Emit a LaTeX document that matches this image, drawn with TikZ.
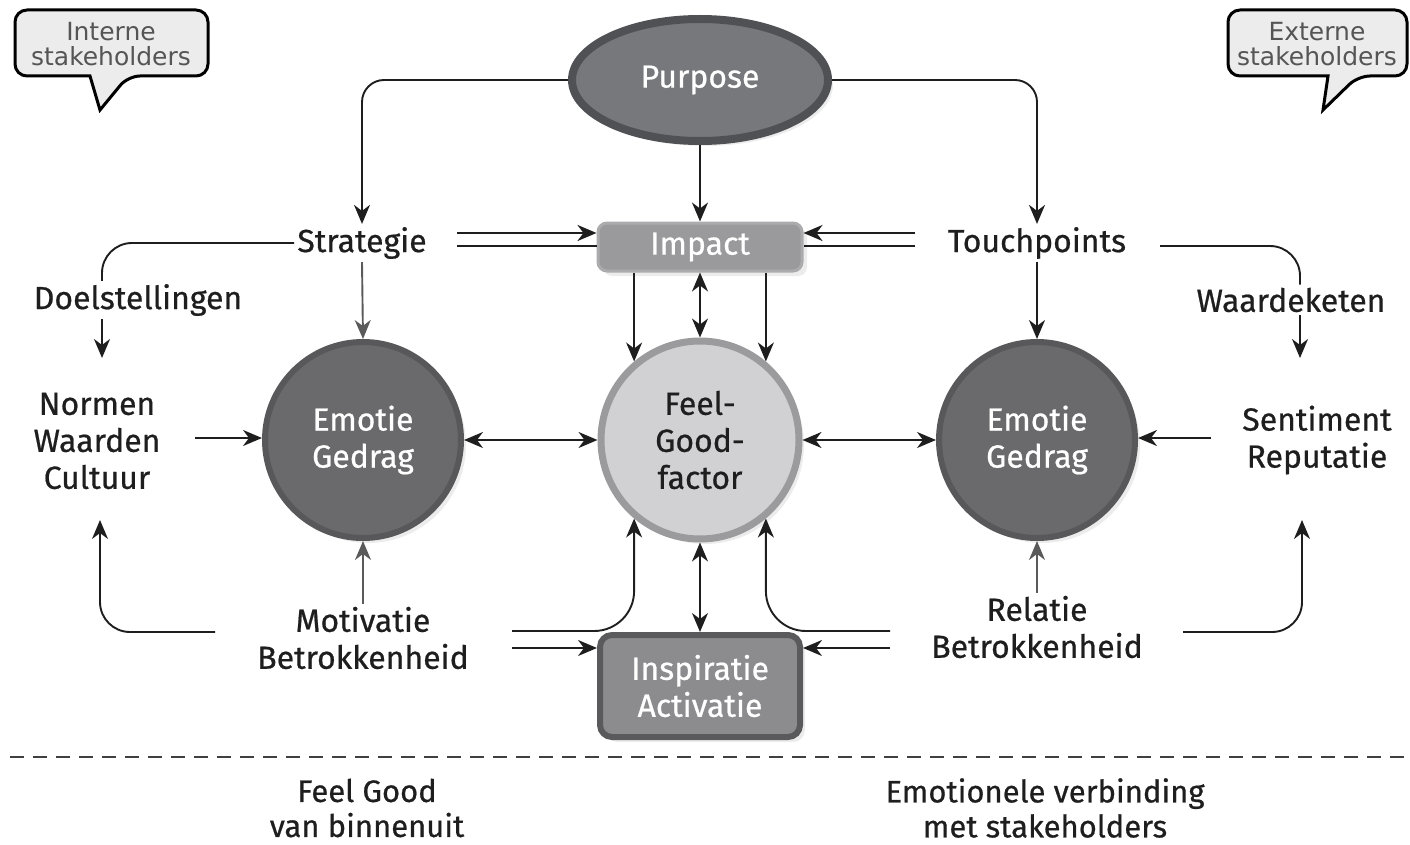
\documentclass[tikz,border=0pt]{standalone}
\usepackage{fontspec}
\setmainfont{Fira Sans}
\newfontfamily\heavyfont{Fira Sans}[FakeBold=0.6]
\newfontfamily\bubblefont{DejaVu Sans}
\usetikzlibrary{arrows.meta,shapes.geometric,shadows,calc}
\definecolor{purfill}{HTML}{77787C}
\definecolor{purborder}{HTML}{505154}
\definecolor{impfill}{HTML}{9A9A9C}
\definecolor{impborder}{HTML}{ABABAD}
\definecolor{emofill}{HTML}{6A6A6C}
\definecolor{emoborder}{HTML}{58585A}
\definecolor{fgfill}{HTML}{D1D1D3}
\definecolor{fgborder}{HTML}{9B9B9D}
\definecolor{inspfill}{HTML}{8C8C8E}
\definecolor{inspborder}{HTML}{5A5A5C}
\definecolor{arrgray}{HTML}{5A5A5A}
\definecolor{bubfill}{HTML}{ECECEC}
\definecolor{bubtext}{HTML}{555555}
\definecolor{ink}{HTML}{1E1E1E}
\begin{document}
\begin{tikzpicture}[x=1pt,y=-1pt,
  txt/.style={font=\heavyfont\fontsize{32}{37}\selectfont, align=center, inner sep=3pt, text=ink},
  wtxt/.style={txt, text=white},
  tip/.tip={Stealth[length=19pt,width=16pt,inset=6pt]},
  arr/.style={-tip, line width=1.9pt, draw=ink},
  darr/.style={tip-tip, line width=1.9pt, draw=ink},
  plain/.style={line width=1.9pt, draw=ink},
  garr/.style={arr, draw=arrgray},
  shadowed/.style={drop shadow={opacity=0.15, shadow xshift=5pt, shadow yshift=-5pt}},
  bubble/.style={fill=bubfill, draw=black, line width=3pt},
  bubtxt/.style={font=\bubblefont\fontsize{25}{25}\selectfont, align=center, text=bubtext, inner sep=1pt},
  dashline/.style={line width=1.4pt, draw=ink!85, dash pattern=on 14pt off 9pt}
]
\useasboundingbox (0,0) rectangle (1410,845);

% speech bubbles
\draw[bubble] (90,76) [rounded corners=12pt] -- (15,76) -- (15,10) -- (208,10) -- (208,76) -- (128,76) [sharp corners] -- (100,110) -- cycle;
\node[bubtxt] (bubI) at (111,44) {Interne\\stakeholders};
\draw[bubble] (1328,76) [rounded corners=12pt] -- (1228,76) -- (1228,10) -- (1407,10) -- (1407,76) -- (1358,76) [sharp corners] -- (1323,110) -- cycle;
\node[bubtxt] (bubE) at (1317,44) {Externe\\stakeholders};

% main nodes
\node[ellipse, minimum width=256, minimum height=122, fill=purfill, draw=purborder, line width=8pt, shadowed, wtxt] (pur) at (700,80) {Purpose};
\node[rectangle, rounded corners=9pt, minimum width=204, minimum height=48, fill=impfill, draw=impborder, line width=3pt, shadowed, wtxt] (imp) at (700,247) {Impact};
\node[circle, minimum size=196, fill=emofill, draw=emoborder, line width=6pt, shadowed, wtxt] (emoL) at (363,440) {Emotie\\Gedrag};
\node[circle, minimum size=198, fill=fgfill, draw=fgborder, line width=7pt, shadowed, txt] (fg) at (700,440) {Feel-\\Good-\\factor};
\node[circle, minimum size=196, fill=emofill, draw=emoborder, line width=6pt, shadowed, wtxt] (emoR) at (1037,440) {Emotie\\Gedrag};
\node[rectangle, rounded corners=12pt, minimum width=200, minimum height=102, fill=inspfill, draw=inspborder, line width=6pt, shadowed, wtxt] (insp) at (700,686) {Inspiratie\\Activatie};

% text nodes
\node[txt] (strat) at (362,243) {Strategie};
\node[txt] (touch) at (1037,243) {Touchpoints};
\node[txt] (doel) at (138,300) {Doelstellingen};
\node[txt] (waard) at (1291,300) {Waardeketen};
\node[txt] (norm) at (97,441) {Normen\\Waarden\\Cultuur};
\node[txt] (sent) at (1317,440) {Sentiment\\Reputatie};
\node[txt] (motiv) at (363,638) {Motivatie\\Betrokkenheid};
\node[txt] (relat) at (1037,627) {Relatie\\Betrokkenheid};
\node[txt, font=\heavyfont\fontsize{31}{35}\selectfont] (fgb) at (367,808) {Feel Good\\van binnenuit};
\node[txt, font=\heavyfont\fontsize{31}{35}\selectfont] (emv) at (1045,808) {Emotionele verbinding\\met stakeholders};

% helper coordinates
\coordinate (xL) at (102,0);
\coordinate (xR) at (1300,0);
\coordinate (dTip) at (102,358);
\coordinate (wTip) at (1300,358);
\coordinate (nL) at (195,438);
\coordinate (sR) at (1211,438);
\coordinate (tW) at (1160,246);
\coordinate (mW) at (215,632);
\coordinate (cTip) at (100,520);
\coordinate (rE) at (1183,632);
\coordinate (sTip) at (1302,520);
\coordinate (sL1) at (457,233);
\coordinate (sL2) at (457,246);
\coordinate (tR1) at (915,233);
\coordinate (tR2) at (915,246);
\coordinate (mR1) at (512,631);
\coordinate (mR2) at (512,648);
\coordinate (rL1) at (890,631);
\coordinate (rL2) at (890,648);
\coordinate (dl) at (10,757);
\coordinate (dr) at (1405,757);

% connectors from Purpose
\draw[arr, rounded corners=22pt] (pur.west) -| (strat.north);
\draw[arr, rounded corners=22pt] (pur.east) -| (touch.north);
\draw[arr] (pur.south) -- (imp.north);

% Strategie / Touchpoints to Impact
\draw[arr, line width=2.8pt] (sL1) -- (sL1 -| imp.west);
\draw[plain] (sL2) -- (sL2 -| imp.west);
\draw[arr, line width=2.8pt] (tR1) -- (tR1 -| imp.east);
\draw[plain] (tR2) -- (tR2 -| imp.east);

% Impact to Feel-Good
\draw[arr] (imp.south -| fg.130) -- (fg.130);
\draw[arr] (imp.south -| fg.50) -- (fg.50);
\draw[darr] (imp.south) -- (fg.north);

% circles
\draw[darr] (emoL.east) -- (fg.west);
\draw[darr] (fg.east) -- (emoR.west);
\draw[garr] (strat.south) -- (emoL.north);
\draw[arr] (touch.south) -- (emoR.north);
\draw[garr] (motiv.north) -- (emoL.south);
\draw[garr] (relat.north) -- (emoR.south);

% left side
\draw[plain, rounded corners=30pt] (strat.west) -| (doel.north -| xL);
\draw[arr] (doel.south -| xL) -- (dTip);
\draw[arr] (nL) -- (nL -| emoL.west);
\draw[arr, rounded corners=30pt] (mW) -| (cTip);

% right side
\draw[plain, rounded corners=30pt] (tW) -| (waard.north -| xR);
\draw[arr] (waard.south -| xR) -- (wTip);
\draw[arr] (sR) -- (sR -| emoR.east);
\draw[arr, rounded corners=30pt] (rE) -| (sTip);

% bottom connectors
\draw[arr, rounded corners=40pt] (mR1) -| (fg.230);
\draw[arr] (mR2) -- (mR2 -| insp.west);
\draw[arr, rounded corners=40pt] (rL1) -| (fg.310);
\draw[arr] (rL2) -- (rL2 -| insp.east);
\draw[darr] (fg.south) -- (insp.north);

% dashed separator
\draw[dashline] (dl) -- (dr);
\end{tikzpicture}
\end{document}
